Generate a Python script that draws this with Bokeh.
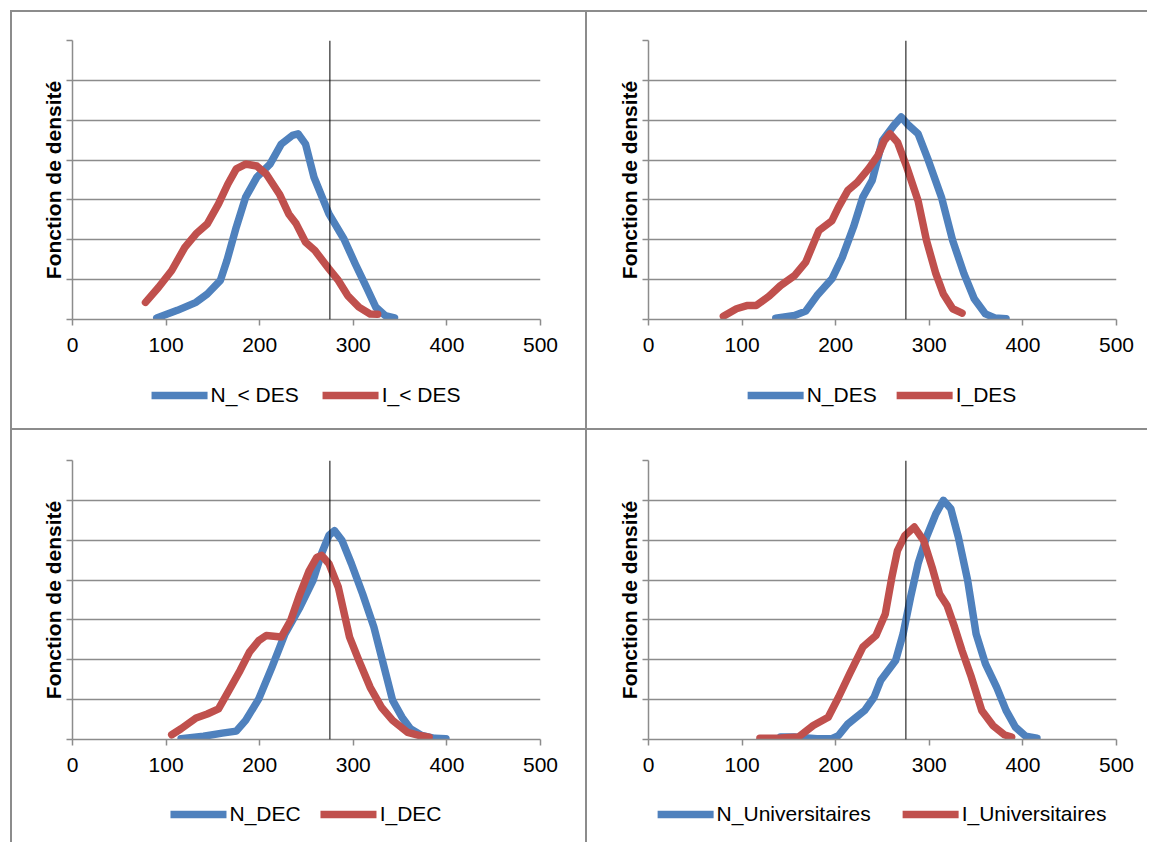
from bokeh.plotting import figure
from bokeh.models import Range1d, FixedTicker, Span, Legend, LegendItem, GridBox
from bokeh.layouts import column
from bokeh.embed import file_html
from bokeh.resources import INLINE

# ---------------- data ----------------
x_ticks = [0, 100, 200, 300, 400, 500]
y_levels = [0, 1, 2, 3, 4, 5, 6, 7]
ref_score = 275
y_title = "Fonction de densité"

# Panel 1 : < DES
n_lt_des_x = [90, 112, 132, 144, 158, 165, 175, 185, 197, 211, 223, 235, 241, 249, 258, 274, 290, 302, 314, 324, 334, 344]
n_lt_des_y = [0.04, 0.23, 0.43, 0.64, 0.98, 1.48, 2.32, 3.07, 3.57, 3.9, 4.4, 4.62, 4.66, 4.4, 3.57, 2.65, 2.02, 1.4, 0.81, 0.31, 0.1, 0.04]
i_lt_des_x = [78, 92, 106, 120, 132, 144, 156, 166, 175, 185, 197, 207, 221, 231, 239, 249, 259, 274, 284, 294, 306, 318, 326]
i_lt_des_y = [0.43, 0.81, 1.23, 1.81, 2.15, 2.4, 2.9, 3.4, 3.78, 3.9, 3.85, 3.65, 3.15, 2.65, 2.4, 1.94, 1.73, 1.27, 0.98, 0.6, 0.31, 0.14, 0.13]

# Panel 2 : DES
n_des_x = [136, 156, 168, 180, 196, 207, 219, 229, 239, 250, 262, 270, 278, 288, 299, 313, 325, 337, 348, 360, 370, 382]
n_des_y = [0.03, 0.1, 0.21, 0.6, 1.02, 1.56, 2.32, 3.07, 3.49, 4.49, 4.87, 5.08, 4.87, 4.66, 3.99, 3.07, 1.98, 1.15, 0.52, 0.14, 0.04, 0.02]
i_des_x = [80, 94, 105, 115, 129, 141, 156, 168, 182, 196, 203, 213, 223, 235, 245, 252, 258, 266, 276, 288, 297, 307, 315, 325, 335]
i_des_y = [0.08, 0.27, 0.35, 0.35, 0.59, 0.85, 1.1, 1.44, 2.23, 2.48, 2.82, 3.24, 3.44, 3.78, 4.11, 4.49, 4.66, 4.45, 3.82, 2.98, 1.98, 1.15, 0.64, 0.27, 0.16]

# Panel 3 : DEC
n_dec_x = [116, 140, 160, 175, 185, 199, 213, 227, 243, 257, 266, 274, 280, 288, 298, 310, 322, 332, 342, 352, 361, 373, 387, 399]
n_dec_y = [0.02, 0.08, 0.16, 0.21, 0.48, 1.02, 1.81, 2.65, 3.32, 3.99, 4.66, 5.12, 5.24, 4.99, 4.41, 3.65, 2.82, 1.9, 0.98, 0.56, 0.27, 0.1, 0.03, 0.02]
i_dec_x = [106, 116, 132, 144, 156, 169, 179, 189, 199, 207, 223, 233, 243, 253, 261, 266, 274, 284, 296, 306, 318, 330, 342, 358, 371, 381]
i_dec_y = [0.12, 0.27, 0.54, 0.64, 0.77, 1.31, 1.73, 2.19, 2.48, 2.61, 2.57, 2.98, 3.65, 4.24, 4.57, 4.62, 4.41, 3.82, 2.57, 1.98, 1.31, 0.81, 0.48, 0.18, 0.1, 0.06]

# Panel 4 : Universitaires
n_univ_x = [141, 156, 180, 196, 203, 213, 231, 241, 248, 264, 272, 280, 288, 297, 307, 315, 323, 331, 341, 350, 360, 372, 382, 392, 403, 415]
n_univ_y = [0.06, 0.06, 0.02, 0.02, 0.1, 0.39, 0.73, 1.06, 1.48, 1.98, 2.65, 3.57, 4.41, 5.08, 5.66, 6.0, 5.79, 5.08, 3.99, 2.65, 1.9, 1.31, 0.73, 0.31, 0.08, 0.03]
i_univ_x = [119, 141, 160, 176, 192, 203, 215, 229, 243, 253, 260, 266, 274, 284, 294, 303, 311, 319, 327, 335, 345, 356, 368, 380, 388]
i_univ_y = [0.03, 0.04, 0.06, 0.35, 0.56, 1.06, 1.65, 2.32, 2.61, 3.15, 4.07, 4.74, 5.12, 5.33, 4.99, 4.32, 3.65, 3.36, 2.82, 2.23, 1.56, 0.73, 0.35, 0.12, 0.06]

labels_n = ["N_< DES", "N_DES", "N_DEC", "N_Universitaires"]
labels_i = ["I_< DES", "I_DES", "I_DEC", "I_Universitaires"]

# ---------------- style ----------------
BLUE = "#4F81BD"
RED = "#C0504D"
GRAY = "#8c8c8c"
FONT = "Liberation Sans"
LW = 7.5

panels = [
    dict(nx=n_lt_des_x, ny=n_lt_des_y, ix=i_lt_des_x, iy=i_lt_des_y, ln=labels_n[0], li=labels_i[0],
         left=60, right=45, top=28, bottom=43, leg_h=66, spacing=24),
    dict(nx=n_des_x, ny=n_des_y, ix=i_des_x, iy=i_des_y, ln=labels_n[1], li=labels_i[1],
         left=61, right=31, top=28, bottom=43, leg_h=66, spacing=20),
    dict(nx=n_dec_x, ny=n_dec_y, ix=i_dec_x, iy=i_dec_y, ln=labels_n[2], li=labels_i[2],
         left=60, right=45, top=30, bottom=47, leg_h=56, spacing=20),
    dict(nx=n_univ_x, ny=n_univ_y, ix=i_univ_x, iy=i_univ_y, ln=labels_n[3], li=labels_i[3],
         left=61, right=31, top=30, bottom=47, leg_h=56, spacing=32),
]

cells = []
for cfg in panels:
    p = figure(frame_width=468, frame_height=279,
               min_border_left=cfg["left"], min_border_right=cfg["right"],
               min_border_top=cfg["top"], min_border_bottom=cfg["bottom"],
               x_range=Range1d(0, 500), y_range=Range1d(0, 7),
               toolbar_location=None, output_backend="svg")
    p.outline_line_color = None
    p.background_fill_color = "white"
    p.border_fill_color = "white"

    p.xgrid.visible = False
    p.yaxis.ticker = FixedTicker(ticks=y_levels)
    p.ygrid.ticker = FixedTicker(ticks=y_levels)
    p.ygrid.grid_line_color = GRAY
    p.ygrid.grid_line_width = 1.5

    p.xaxis.ticker = FixedTicker(ticks=x_ticks)
    p.xaxis.axis_line_color = GRAY
    p.xaxis.axis_line_width = 1.5
    p.xaxis.major_tick_line_color = GRAY
    p.xaxis.major_tick_line_width = 1.5
    p.xaxis.major_tick_out = 6
    p.xaxis.major_tick_in = 0
    p.xaxis.minor_tick_line_color = None
    p.xaxis.major_label_text_font = FONT
    p.xaxis.major_label_text_font_size = "21px"
    p.xaxis.major_label_text_color = "black"
    p.xaxis.major_label_standoff = 12

    p.yaxis.axis_line_color = GRAY
    p.yaxis.axis_line_width = 1.5
    p.yaxis.major_tick_line_color = GRAY
    p.yaxis.major_tick_line_width = 1.5
    p.yaxis.major_tick_out = 6
    p.yaxis.major_tick_in = 0
    p.yaxis.minor_tick_line_color = None
    p.yaxis.major_label_overrides = {v: "" for v in y_levels}
    p.yaxis.major_label_standoff = 0
    p.yaxis.axis_label = y_title
    p.yaxis.axis_label_text_font = FONT
    p.yaxis.axis_label_text_font_size = "21px"
    p.yaxis.axis_label_text_font_style = "bold"
    p.yaxis.axis_label_text_color = "black"
    p.yaxis.axis_label_standoff = 2

    p.line(cfg["nx"], cfg["ny"], line_color=BLUE, line_width=LW,
           line_cap="round", line_join="round")
    p.line(cfg["ix"], cfg["iy"], line_color=RED, line_width=LW,
           line_cap="round", line_join="round")

    p.add_layout(Span(location=ref_score, dimension="height",
                      line_color="black", line_width=1))

    # legend strip below the chart (same horizontal frame as the chart);
    # its series use the same data but lie outside the strip's view.
    lg = figure(frame_width=468, height=cfg["leg_h"],
                min_border_left=cfg["left"], min_border_right=cfg["right"],
                min_border_top=0, min_border_bottom=0,
                x_range=Range1d(0, 500), y_range=Range1d(-20, -10),
                x_axis_type=None, y_axis_type=None,
                toolbar_location=None, output_backend="svg")
    lg.outline_line_color = None
    lg.xgrid.visible = False
    lg.ygrid.visible = False
    lg.background_fill_color = None
    lg.border_fill_color = None
    rn = lg.line(cfg["nx"], cfg["ny"], line_color=BLUE, line_width=LW, line_cap="round")
    ri = lg.line(cfg["ix"], cfg["iy"], line_color=RED, line_width=LW, line_cap="round")
    legend = Legend(items=[LegendItem(label=cfg["ln"], renderers=[rn]),
                           LegendItem(label=cfg["li"], renderers=[ri])],
                    location="center", orientation="horizontal",
                    border_line_color=None, background_fill_alpha=0,
                    label_text_font=FONT, label_text_font_size="21px",
                    label_text_color="black", glyph_width=56, glyph_height=20,
                    label_height=20, label_standoff=3, spacing=cfg["spacing"],
                    padding=0, margin=0)
    lg.add_layout(legend)

    cells.append(column(p, lg, spacing=0, styles={"background-color": "white"}))

grid = GridBox(children=[(cells[0], 0, 0), (cells[1], 0, 1),
                         (cells[2], 1, 0), (cells[3], 1, 1)],
               spacing=2, margin=(10, 0, 0, 10),
               styles={"background-color": GRAY, "padding": "2px 0px 0px 2px"})

open("out.html", "w").write(file_html(grid, INLINE))
